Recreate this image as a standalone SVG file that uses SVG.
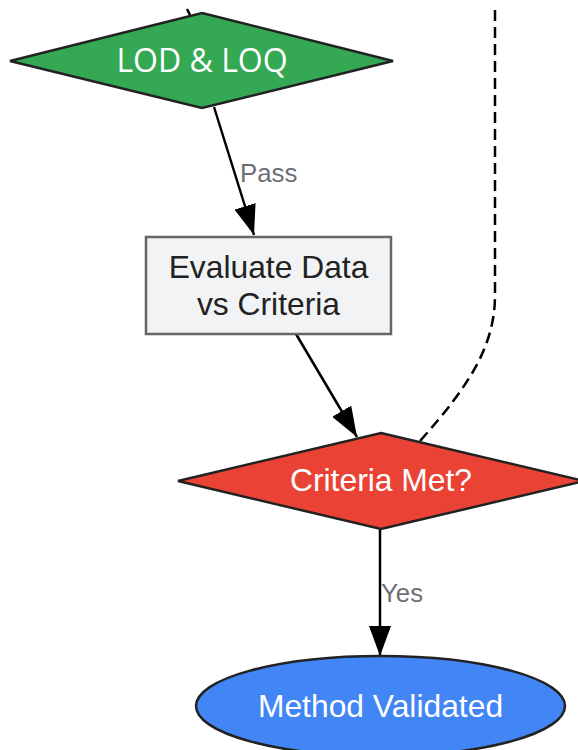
<svg xmlns="http://www.w3.org/2000/svg" width="578" height="750" viewBox="0 0 578 750">
<defs>
<style>
.node text{font-family:"Liberation Sans",Arial,sans-serif;font-size:31.8px;text-anchor:middle}
.edge{stroke:#000;stroke-width:2.5;fill:none}
.lbl{font-family:"Liberation Sans",Arial,sans-serif;font-size:25.8px;fill:#6c6f75}
</style>
<marker id="arr" viewBox="0 0 30 22" markerWidth="30" markerHeight="22" refX="30" refY="11" orient="auto" markerUnits="userSpaceOnUse">
<path d="M0,0 L30,11 L0,22 z" fill="#000"/>
</marker>
</defs>
<rect width="578" height="750" fill="#fff"/>
<g id="connectors">
<line class="edge" x1="187" y1="9" x2="190" y2="15"/>
<line class="edge" x1="214" y1="107" x2="254" y2="235" marker-end="url(#arr)"/>
<text class="lbl" x="240" y="182">Pass</text>
<line class="edge" x1="296" y1="334" x2="357" y2="437" marker-end="url(#arr)"/>
<path class="edge" d="M420,441 C470,385 495,345 495,295 L495,10" stroke-dasharray="11,6"/>
<line class="edge" x1="380" y1="529" x2="380" y2="656" marker-end="url(#arr)"/>
<text class="lbl" x="381" y="602">Yes</text>
</g>
<g id="lod" class="node">
<polygon points="202,13 393,61 202,108 10,61" fill="#34A853" stroke="#222" stroke-width="2.5"/>
<text x="202" y="72" fill="#fff" style="font-family:'Open Sans','Noto Sans',sans-serif;font-size:32px">LOD &amp; LOQ</text>
</g>
<g id="evaluate" class="node">
<rect x="146" y="237" width="245" height="97" fill="#F1F3F5" stroke="#666" stroke-width="2.5"/>
<text x="268.5" y="278" fill="#222">Evaluate Data</text>
<text x="268.5" y="315" fill="#222">vs Criteria</text>
</g>
<g id="criteria" class="node">
<polygon points="381,433 584,481 381,529 178,481" fill="#EA4335" stroke="#222" stroke-width="2.5"/>
<text x="381" y="491" fill="#fff">Criteria Met?</text>
</g>
<g id="validated" class="node">
<ellipse cx="380.5" cy="706" rx="184.5" ry="50" fill="#4285F4" stroke="#222" stroke-width="2.5"/>
<text x="380.5" y="717" fill="#fff">Method Validated</text>
</g>
</svg>
